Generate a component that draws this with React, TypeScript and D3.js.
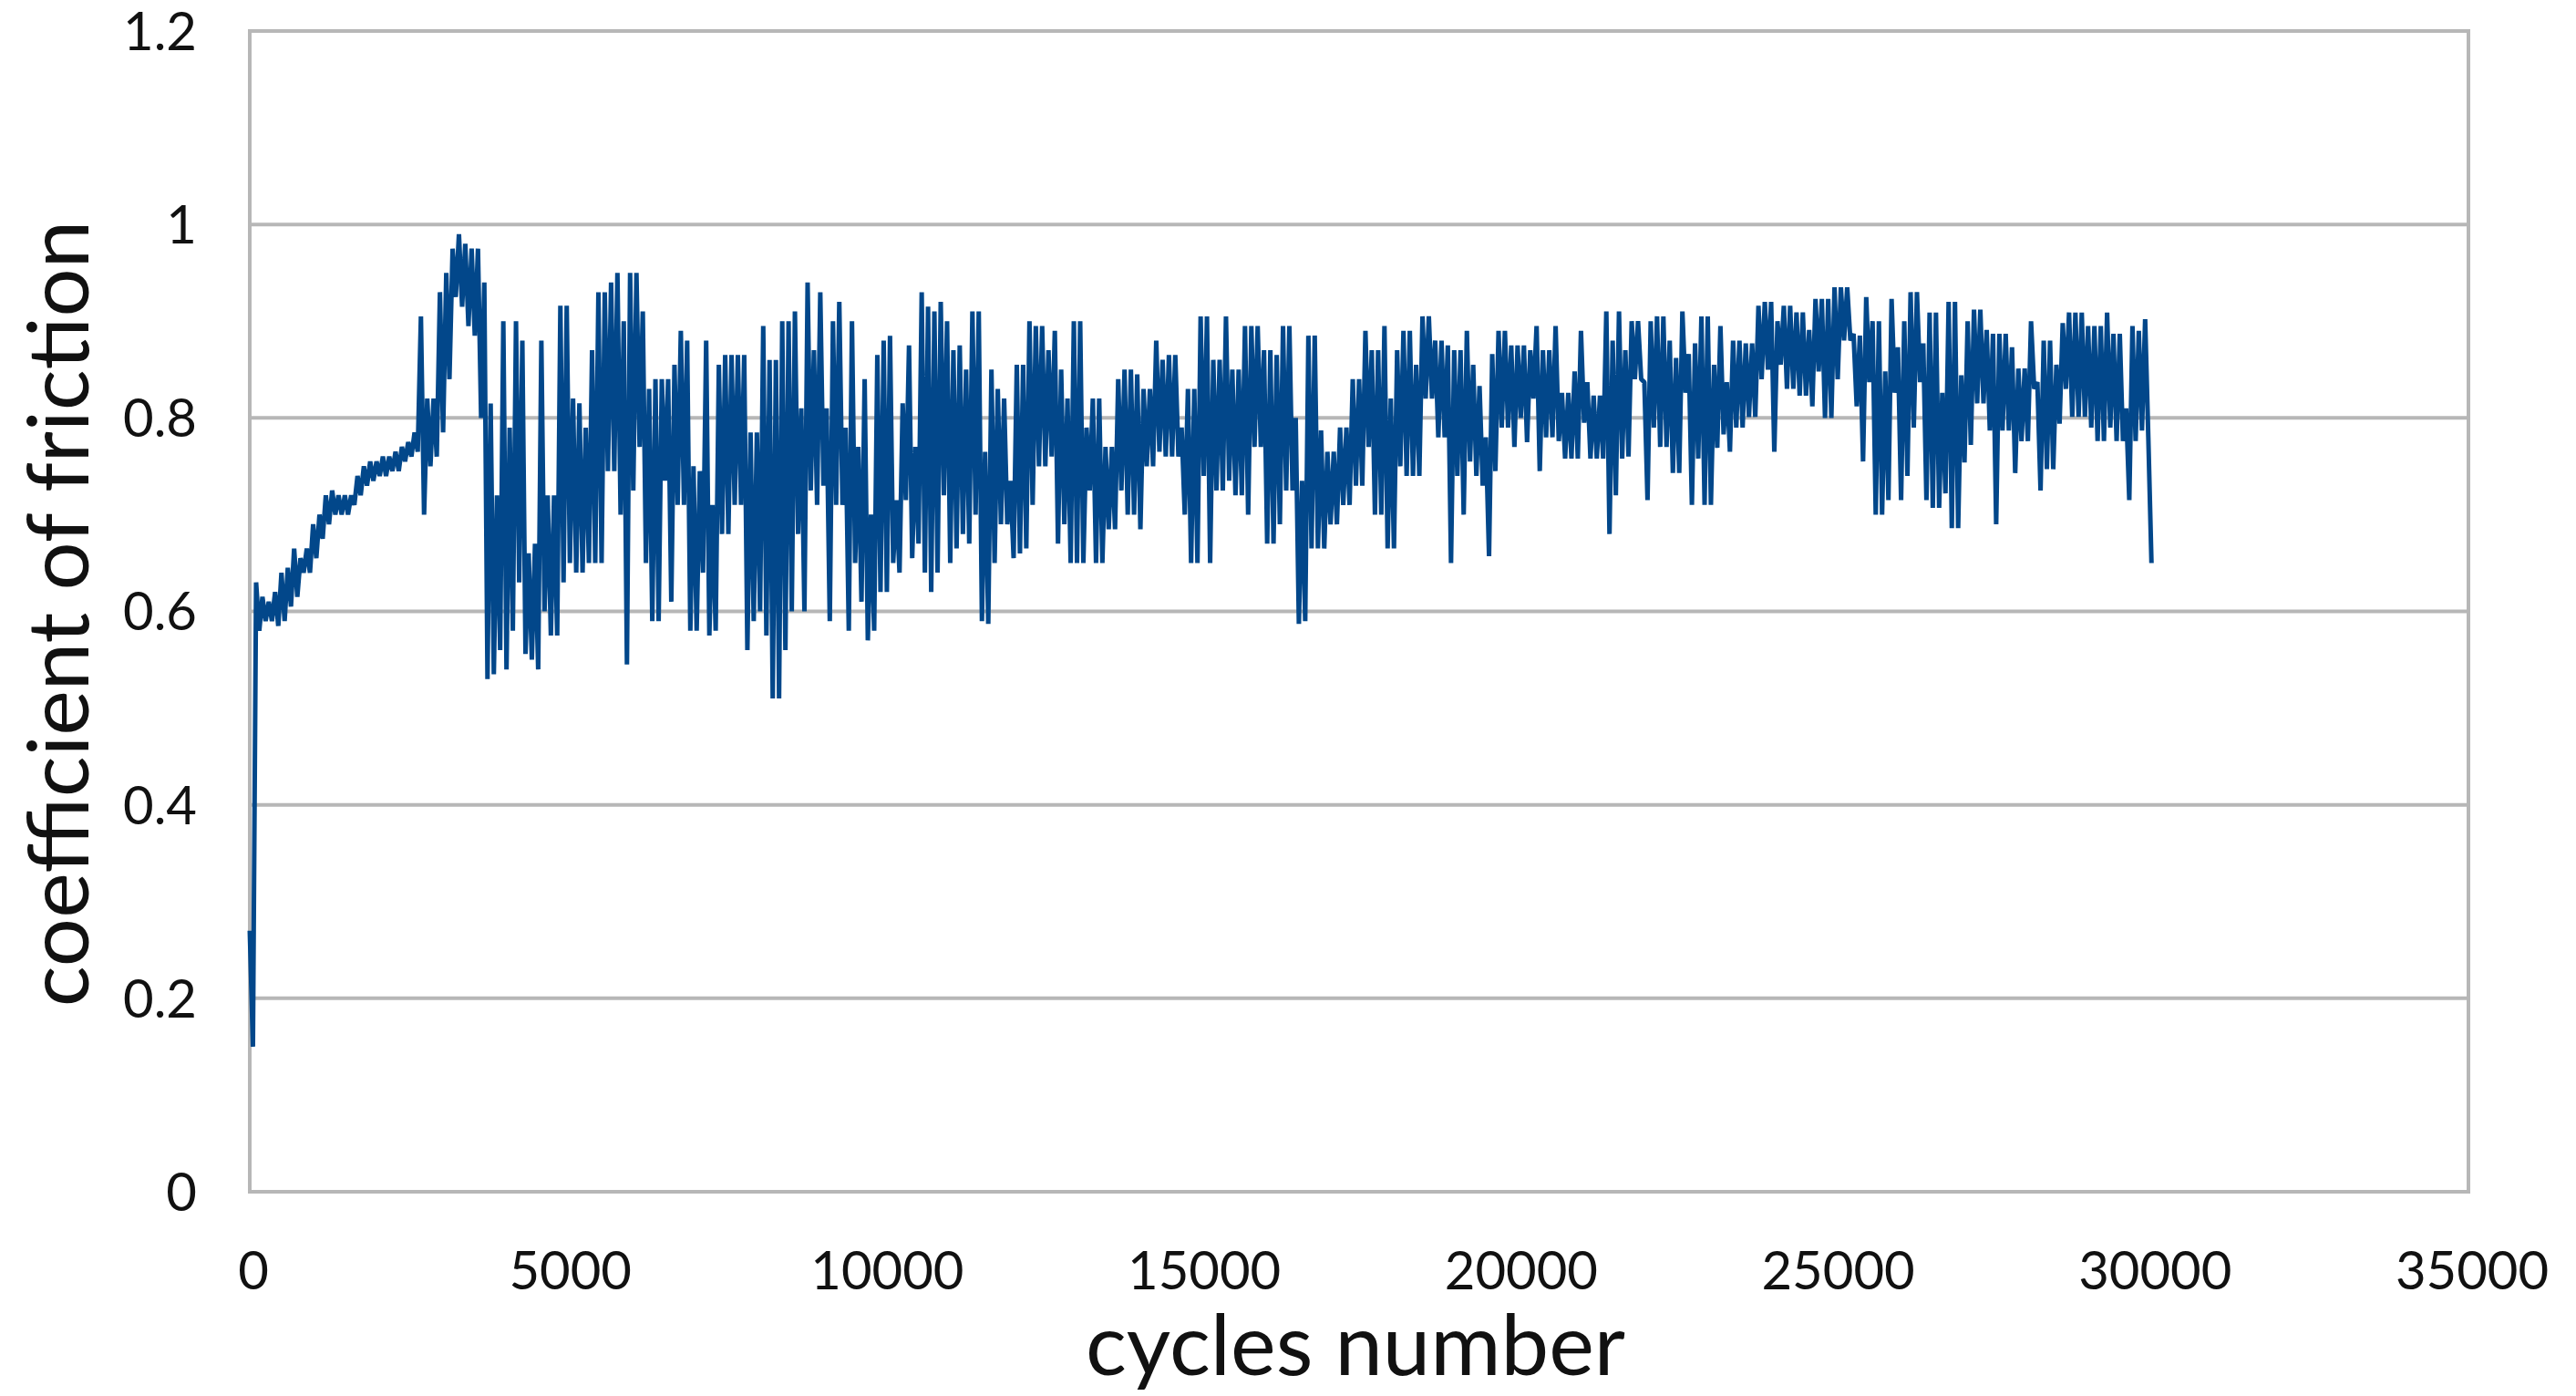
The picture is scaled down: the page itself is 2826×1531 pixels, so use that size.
import React from "react";
import * as d3 from "d3";

// Each column covers 100 cycles: the trace reaches HI then LO inside the column.
// cycles 0 - 4900
const HI0 = [0.27, 0.63, 0.615, 0.61, 0.62, 0.64, 0.645, 0.665, 0.655, 0.665,
  0.69, 0.70, 0.72, 0.725, 0.72, 0.72, 0.72, 0.74, 0.75, 0.755,
  0.755, 0.76, 0.76, 0.765, 0.77, 0.775, 0.785, 0.905, 0.82, 0.82,
  0.93, 0.95, 0.975, 0.99, 0.98, 0.975, 0.975, 0.94, 0.815, 0.72,
  0.90, 0.79, 0.90, 0.88, 0.66, 0.67, 0.88, 0.72, 0.72, 0.916];
const LO0 = [0.15, 0.58, 0.59, 0.59, 0.585, 0.59, 0.605, 0.615, 0.64, 0.64,
  0.655, 0.675, 0.69, 0.70, 0.70, 0.70, 0.71, 0.72, 0.73, 0.735,
  0.74, 0.74, 0.745, 0.745, 0.755, 0.76, 0.765, 0.70, 0.75, 0.76,
  0.785, 0.84, 0.925, 0.915, 0.895, 0.885, 0.80, 0.53, 0.535, 0.56,
  0.54, 0.58, 0.63, 0.556, 0.55, 0.54, 0.60, 0.575, 0.575, 0.63];
// cycles 5000 - 9900
const HI1 = [0.916, 0.82, 0.815, 0.79, 0.87, 0.93, 0.93, 0.94, 0.95, 0.90,
  0.95, 0.95, 0.91, 0.83, 0.84, 0.84, 0.84, 0.855, 0.89, 0.88,
  0.75, 0.745, 0.88, 0.71, 0.855, 0.865, 0.865, 0.865, 0.865, 0.785,
  0.785, 0.895, 0.86, 0.86, 0.90, 0.90, 0.91, 0.81, 0.94, 0.87,
  0.93, 0.81, 0.90, 0.92, 0.79, 0.90, 0.77, 0.84, 0.70, 0.865];
const LO1 = [0.65, 0.64, 0.64, 0.65, 0.65, 0.65, 0.745, 0.745, 0.70, 0.545,
  0.725, 0.77, 0.65, 0.59, 0.59, 0.735, 0.61, 0.71, 0.71, 0.58,
  0.58, 0.64, 0.575, 0.58, 0.68, 0.68, 0.71, 0.71, 0.56, 0.59,
  0.60, 0.575, 0.51, 0.51, 0.56, 0.60, 0.68, 0.60, 0.725, 0.71,
  0.73, 0.59, 0.71, 0.71, 0.58, 0.65, 0.61, 0.57, 0.58, 0.62];
// cycles 10000 - 14900
const HI2 = [0.88, 0.885, 0.715, 0.815, 0.875, 0.77, 0.93, 0.915, 0.91, 0.92,
  0.90, 0.87, 0.875, 0.85, 0.91, 0.91, 0.765, 0.85, 0.83, 0.82,
  0.735, 0.855, 0.855, 0.90, 0.895, 0.895, 0.87, 0.89, 0.85, 0.82,
  0.90, 0.90, 0.79, 0.82, 0.82, 0.77, 0.77, 0.84, 0.85, 0.85,
  0.845, 0.83, 0.83, 0.88, 0.86, 0.865, 0.865, 0.79, 0.83, 0.83];
const LO2 = [0.62, 0.65, 0.64, 0.715, 0.655, 0.67, 0.64, 0.62, 0.64, 0.72,
  0.65, 0.665, 0.68, 0.67, 0.70, 0.59, 0.587, 0.65, 0.69, 0.69,
  0.655, 0.66, 0.665, 0.71, 0.75, 0.75, 0.76, 0.67, 0.69, 0.65,
  0.65, 0.65, 0.725, 0.65, 0.65, 0.685, 0.685, 0.725, 0.70, 0.70,
  0.685, 0.75, 0.75, 0.765, 0.76, 0.76, 0.76, 0.70, 0.65, 0.65];
// cycles 15000 - 19900
const HI3 = [0.905, 0.905, 0.86, 0.86, 0.905, 0.85, 0.85, 0.895, 0.895, 0.895,
  0.87, 0.87, 0.865, 0.895, 0.895, 0.80, 0.735, 0.885, 0.885, 0.787,
  0.765, 0.765, 0.79, 0.79, 0.84, 0.84, 0.89, 0.87, 0.87, 0.895,
  0.82, 0.87, 0.89, 0.89, 0.855, 0.905, 0.905, 0.88, 0.88, 0.875,
  0.87, 0.87, 0.89, 0.855, 0.833, 0.78, 0.866, 0.89, 0.89, 0.875];
const LO3 = [0.74, 0.65, 0.725, 0.725, 0.735, 0.72, 0.72, 0.70, 0.77, 0.77,
  0.67, 0.67, 0.69, 0.725, 0.725, 0.587, 0.59, 0.665, 0.665, 0.665,
  0.69, 0.69, 0.71, 0.71, 0.73, 0.73, 0.77, 0.70, 0.70, 0.665,
  0.665, 0.75, 0.74, 0.74, 0.74, 0.82, 0.82, 0.78, 0.78, 0.65,
  0.74, 0.70, 0.755, 0.74, 0.73, 0.657, 0.745, 0.79, 0.79, 0.77];
// cycles 20000 - 24900
const HI4 = [0.875, 0.875, 0.87, 0.895, 0.87, 0.87, 0.895, 0.826, 0.826, 0.848,
  0.89, 0.837, 0.823, 0.823, 0.91, 0.88, 0.91, 0.87, 0.90, 0.90,
  0.837, 0.90, 0.905, 0.905, 0.88, 0.862, 0.91, 0.866, 0.877, 0.905,
  0.905, 0.855, 0.895, 0.837, 0.88, 0.88, 0.877, 0.877, 0.916, 0.92,
  0.92, 0.90, 0.916, 0.916, 0.909, 0.909, 0.891, 0.923, 0.923, 0.923];
const LO4 = [0.80, 0.775, 0.82, 0.745, 0.78, 0.78, 0.776, 0.758, 0.758, 0.758,
  0.795, 0.758, 0.758, 0.758, 0.68, 0.72, 0.758, 0.76, 0.84, 0.84,
  0.715, 0.79, 0.77, 0.77, 0.743, 0.743, 0.826, 0.71, 0.758, 0.71,
  0.71, 0.769, 0.783, 0.765, 0.79, 0.79, 0.801, 0.801, 0.84, 0.85,
  0.765, 0.855, 0.83, 0.83, 0.823, 0.823, 0.812, 0.848, 0.80, 0.80];
// cycles 25000 - 29900
const HI5 = [0.935, 0.935, 0.935, 0.887, 0.885, 0.925, 0.90, 0.90, 0.848, 0.923,
  0.873, 0.90, 0.93, 0.93, 0.877, 0.909, 0.909, 0.826, 0.92, 0.92,
  0.844, 0.90, 0.912, 0.912, 0.891, 0.887, 0.887, 0.887, 0.873, 0.851,
  0.851, 0.90, 0.837, 0.88, 0.88, 0.855, 0.898, 0.909, 0.909, 0.909,
  0.895, 0.895, 0.895, 0.909, 0.887, 0.887, 0.81, 0.895, 0.89, 0.902];
const LO5 = [0.84, 0.88, 0.88, 0.812, 0.755, 0.837, 0.70, 0.70, 0.715, 0.826,
  0.715, 0.74, 0.79, 0.837, 0.715, 0.707, 0.707, 0.722, 0.686, 0.686,
  0.754, 0.772, 0.815, 0.815, 0.787, 0.69, 0.787, 0.787, 0.743, 0.776,
  0.776, 0.83, 0.725, 0.747, 0.747, 0.794, 0.83, 0.801, 0.801, 0.801,
  0.79, 0.776, 0.776, 0.79, 0.776, 0.776, 0.715, 0.776, 0.787, 0.78];
// last reading, at 30000 cycles
const FINAL_VALUE = 0.65;
const FINAL_CYCLES = 30000;

const HIGHS = [HI0, HI1, HI2, HI3, HI4, HI5];
const LOWS = [LO0, LO1, LO2, LO3, LO4, LO5];
const SEGMENT_CYCLES = 5000;
const COLUMN_CYCLES = 100;

const X_TICKS = [0, 5000, 10000, 15000, 20000, 25000, 30000, 35000];
const Y_TICKS = [0, 0.2, 0.4, 0.6, 0.8, 1.0, 1.2];
const Y_TICK_LABELS = ["0", "0.2", "0.4", "0.6", "0.8", "1", "1.2"];

const X_TITLE = "cycles number";
const Y_TITLE = "coefficient of friction";

const W = 2826;
const H = 1531;
const LEFT = 274;
const RIGHT = 2708;
const TOP = 34;
const BOTTOM = 1307;

const FONT = "Lato, 'Open Sans', 'DejaVu Sans', sans-serif";
const GRID = "#b7b7b7";
const LINE = "#02478a";

type Pt = { x: number; y: number };

export default function App() {
  const data: Pt[] = [];
  HIGHS.forEach((his, s) => {
    his.forEach((hi, i) => {
      const c = s * SEGMENT_CYCLES + i * COLUMN_CYCLES;
      data.push({ x: c, y: hi });
      data.push({ x: c + COLUMN_CYCLES / 2, y: LOWS[s][i] });
    });
  });
  data.push({ x: FINAL_CYCLES, y: FINAL_VALUE });

  const x = d3.scaleLinear().domain([0, 35000]).range([LEFT, RIGHT]);
  const y = d3.scaleLinear().domain([0, 1.2]).range([BOTTOM, TOP]);
  const line = d3
    .line<Pt>()
    .x((d) => x(d.x))
    .y((d) => y(d.y));

  const tickFs = 58;
  return (
    <svg
      width={W}
      height={H}
      style={{ position: "absolute", left: 0, top: 0, background: "#fff" }}
      fontFamily={FONT}
    >
      <rect x={0} y={0} width={W} height={H} fill="#fff" />
      {Y_TICKS.slice(1, -1).map((t) => (
        <line key={t} x1={LEFT} x2={RIGHT} y1={y(t)} y2={y(t)} stroke={GRID} strokeWidth={4} />
      ))}
      <rect
        x={LEFT}
        y={TOP}
        width={RIGHT - LEFT}
        height={BOTTOM - TOP}
        fill="none"
        stroke={GRID}
        strokeWidth={4}
      />
      <path
        d={line(data) || ""}
        fill="none"
        stroke={LINE}
        strokeWidth={5}
        strokeLinejoin="bevel"
      />
      {Y_TICKS.map((t, i) => (
        <text
          key={t}
          x={216}
          y={y(t) + tickFs * 0.36}
          textAnchor="end"
          fontSize={tickFs}
          fill="#111"
        >
          {Y_TICK_LABELS[i]}
        </text>
      ))}
      {X_TICKS.map((t) => (
        <text
          key={t}
          x={x(t) + 4}
          y={1414}
          textAnchor="middle"
          fontSize={tickFs}
          fill="#111"
        >
          {t}
        </text>
      ))}
      <text x={1487} y={1508} textAnchor="middle" fontSize={94} fill="#111">
        {X_TITLE}
      </text>
      <text
        transform={`translate(97, 673) rotate(-90)`}
        textAnchor="middle"
        fontSize={94}
        fill="#111"
      >
        {Y_TITLE}
      </text>
    </svg>
  );
}
